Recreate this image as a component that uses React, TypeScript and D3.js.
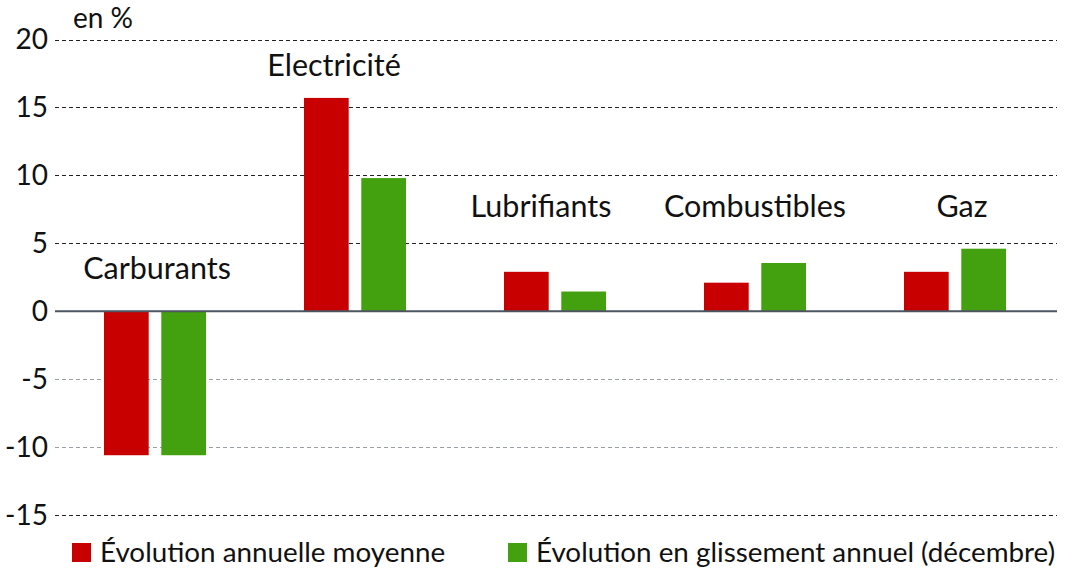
import React from "react";
import * as d3 from "d3";

const categories = ["Carburants", "Electricité", "Lubrifiants", "Combustibles", "Gaz"];
const seriesNames = ["Évolution annuelle moyenne", "Évolution en glissement annuel (décembre)"];
const moyenne = [-10.6, 15.7, 2.9, 2.1, 2.9];
const glissement = [-10.6, 9.8, 1.45, 3.55, 4.6];
const labelLevels = [2.4, 17.35, 6.95, 6.95, 6.95];
const labelOffsets = [2, -21, -14, 0, 7];
const yTicks = [20, 15, 10, 5, 0, -5, -10, -15];
const colors = ["#c80000", "#43a00e"];

const W = 1075;
const H = 579;
const FONT = "Lato, 'Open Sans', sans-serif";

export default function App() {
  const y = d3.scaleLinear().domain([-15, 20]).range([515, 39.5]);
  const x0 = d3.scaleBand<string>().domain(categories).range([55, 1055]).paddingInner(0);
  const x1 = d3.scaleBand<string>().domain(seriesNames).range([49, 151]).paddingInner(0.22);
  const values = [moyenne, glissement];

  return (
    <svg width={W} height={H} style={{ position: "absolute", left: 0, top: 0, background: "#fff" }} fontFamily={FONT}>
      <text x={73} y={28} fontSize={28} fill="#111">en %</text>
      {yTicks.map((t) => (
        <g key={t}>
          {t !== 0 && (
            <line
              x1={55}
              x2={1057}
              y1={Math.round(y(t)) + 0.5}
              y2={Math.round(y(t)) + 0.5}
              stroke={t === -5 || t === -10 ? "#9aa0a6" : "#222"}
              strokeWidth={1}
              strokeDasharray="4,3"
            />
          )}
          <text x={48} y={y(t)} dy="0.35em" textAnchor="end" fontSize={28} fill="#111">
            {t}
          </text>
        </g>
      ))}
      {categories.map((c, i) => (
        <g key={c}>
          {values.map((vals, s) => {
            const v = vals[i];
            const bx = (x0(c) as number) + (x1(seriesNames[s]) as number);
            const top = y(Math.max(0, v));
            const bot = y(Math.min(0, v));
            return (
              <rect key={s} x={bx} y={top} width={x1.bandwidth()} height={bot - top} fill={colors[s]} />
            );
          })}
          <text
            x={(x0(c) as number) + x0.bandwidth() / 2 + labelOffsets[i]}
            y={y(labelLevels[i])}
            textAnchor="middle"
            fontSize={30.5}
            fill="#111"
          >
            {c}
          </text>
        </g>
      ))}
      <line x1={55} x2={1057} y1={y(0)} y2={y(0)} stroke="#4d5561" strokeWidth={2} />
      <g>
        <rect x={72} y={543} width={19} height={19} fill={colors[0]} />
        <text x={100} y={562} fontSize={27.8} fill="#111">{seriesNames[0]}</text>
        <rect x={508} y={543} width={19} height={19} fill={colors[1]} />
        <text x={536} y={562} fontSize={27.8} fill="#111">{seriesNames[1]}</text>
      </g>
    </svg>
  );
}
